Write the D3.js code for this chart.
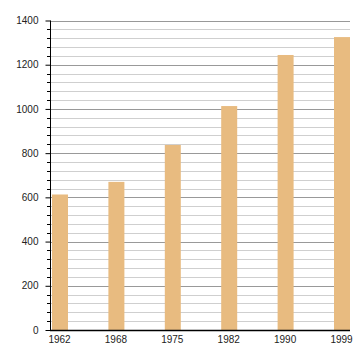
<!DOCTYPE html>
<html><head><meta charset="utf-8">
<script src="https://cdn.jsdelivr.net/npm/d3@7"></script>
<style>body{margin:0;background:#fff}svg{display:block}text{font-family:"Liberation Sans",Arial,sans-serif;font-size:10px;fill:#222}</style>
</head><body><svg id="c" width="360" height="360"></svg>
<script>
const categories = ["1962","1968","1975","1982","1990","1999"];
const values = [613, 670, 837, 1013, 1244, 1325];
const majorTicks = [0,200,400,600,800,1000,1200,1400];

const svg = d3.select("#c");
const L = 50, R = 350, T = 20.5, B = 330;
const y = d3.scaleLinear().domain([0,1400]).range([B,T]);
const x = d3.scalePoint().domain(categories).range([60,342]);
const bw = 16;

const minor = d3.range(0,1401,40).filter(v => v % 200 !== 0);
svg.append("g").selectAll("line").data(minor).join("line")
  .attr("x1",L).attr("x2",R).attr("y1",d=>Math.round(y(d))+0.5).attr("y2",d=>Math.round(y(d))+0.5)
  .attr("stroke","#cfcfcf").attr("stroke-width",1);
svg.append("g").selectAll("line").data(majorTicks.filter(v=>v>0)).join("line")
  .attr("x1",L).attr("x2",R).attr("y1",d=>Math.round(y(d))+0.5).attr("y2",d=>Math.round(y(d))+0.5)
  .attr("stroke","#999").attr("stroke-width",1);

svg.append("g").selectAll("rect").data(values).join("rect")
  .attr("x",(d,i)=>x(categories[i])-bw/2).attr("width",bw)
  .attr("y",d=>y(d)).attr("height",d=>B-y(d))
  .attr("fill","#e8bb80");

// minor ticks on y axis
svg.append("g").selectAll("line").data(minor).join("line")
  .attr("x1",L-3).attr("x2",L).attr("y1",d=>Math.round(y(d))+0.5).attr("y2",d=>Math.round(y(d))+0.5)
  .attr("stroke","#000");
const ya = svg.append("g").attr("transform",`translate(${L+0.5},0)`)
  .call(d3.axisLeft(y).tickValues(majorTicks).tickSize(5).tickPadding(7).tickFormat(d3.format("d")));
ya.select(".domain").remove();
ya.selectAll("text").style("font-size","10px").attr("fill","#222");
ya.selectAll("line").attr("stroke","#000");
svg.append("line").attr("x1",L+0.5).attr("x2",L+0.5).attr("y1",T).attr("y2",B+1).attr("stroke","#000");

const xa = svg.append("g").attr("transform",`translate(0,${B})`)
  .call(d3.axisBottom(x).tickSize(0).tickPadding(6));
xa.select(".domain").remove();
xa.selectAll("text").style("font-size","10px").attr("fill","#222").attr("dx","-1");
svg.append("line").attr("x1",L).attr("x2",R).attr("y1",B+0.5).attr("y2",B+0.5).attr("stroke","#000").attr("stroke-width",1.5);
</script></body></html>
